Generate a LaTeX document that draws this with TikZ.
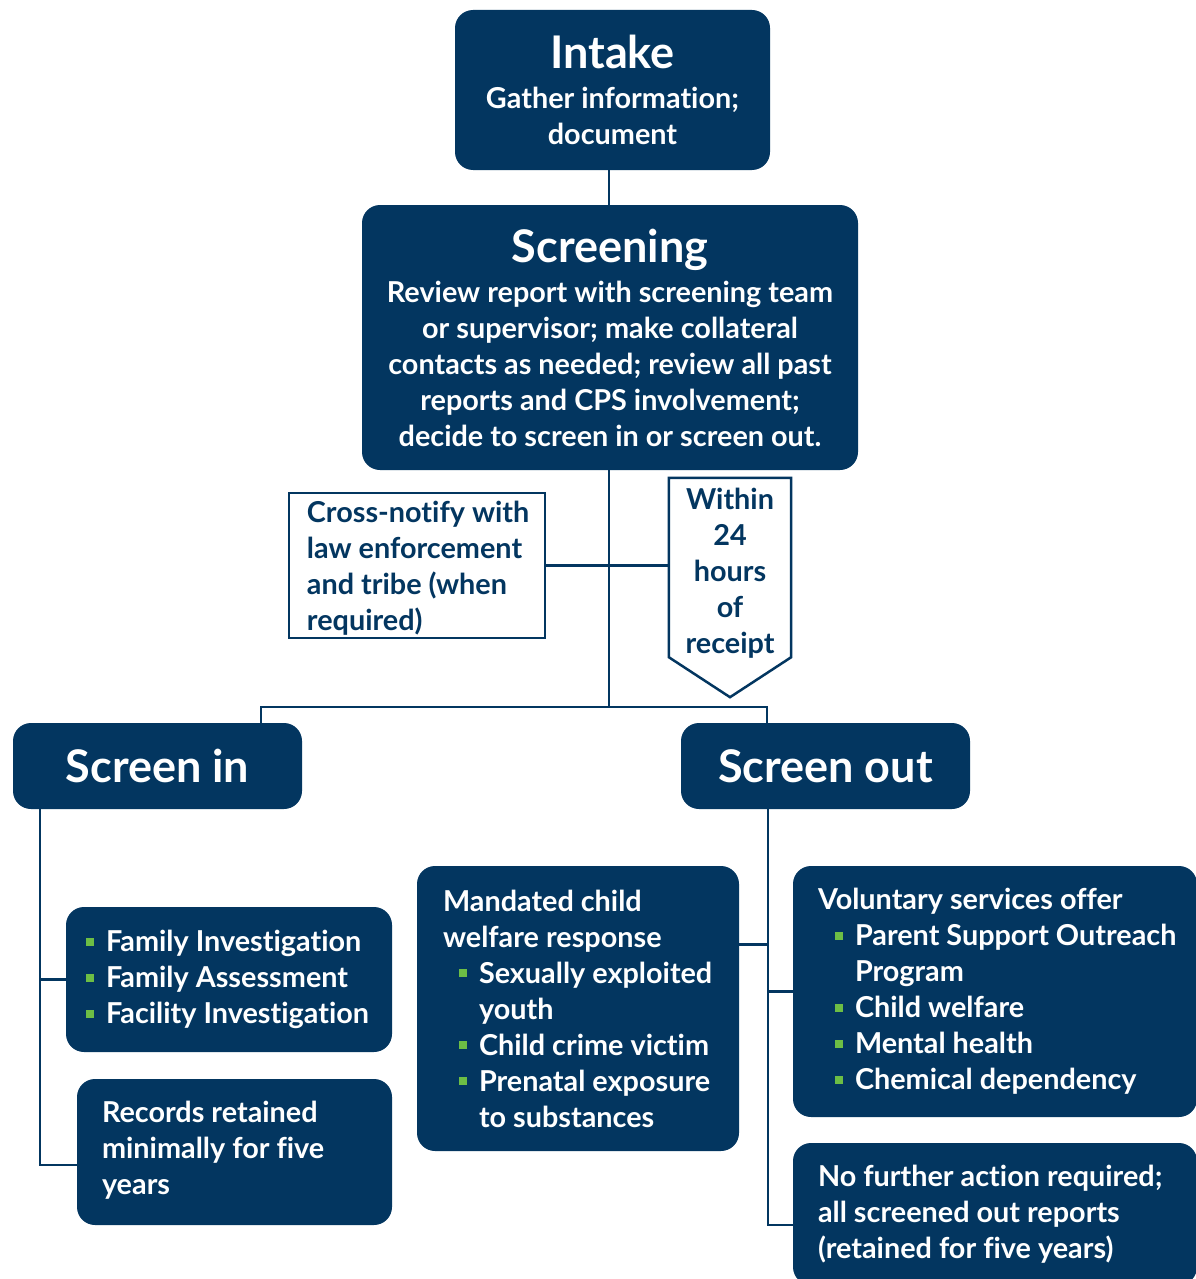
\documentclass[tikz,border=0pt]{standalone}
\usepackage{fontspec}
\setmainfont{Lato}[Ligatures=NoCommon]
\usetikzlibrary{calc}
\definecolor{navy}{RGB}{3,54,96}
\definecolor{grn}{RGB}{109,190,69}
\newcommand\gbul[1][16pt]{\hspace*{#1}\textcolor{grn}{\rule[6pt]{8pt}{8pt}}\hspace*{12pt}}
\newcommand\gcont[1][36pt]{\hspace*{#1}}
\newcommand\bodyfont{\fontsize{28.8pt}{36pt}\selectfont\bfseries}
\newcommand\titlefont{\fontsize{45pt}{50pt}\selectfont\bfseries}
\begin{document}
\begin{tikzpicture}[x=1pt,y=-1pt,
  navybox/.style={fill=navy, draw=none, rounded corners=18pt, text=white, inner sep=0pt, font=\bodyfont},
  outlinebox/.style={draw=navy, line width=2.5pt, fill=white, inner sep=0pt},
  bodytext/.style={text=white, inner sep=0pt, font=\bodyfont, align=left},
  navytext/.style={text=navy, inner sep=0pt, font=\bodyfont, align=left},
  link/.style={draw=navy, line width=2.5pt}]
\useasboundingbox (0,0) rectangle (1195,1279);

% top boxes
\node[navybox, minimum width=315pt, minimum height=160pt, align=center] (intake) at (612.5,90)
  {{\titlefont Intake}\\[4pt]Gather information;\\document};
\node[navybox, minimum width=496pt, minimum height=265pt, align=center] (screening) at (610,337.5)
  {{\titlefont Screening}\\[4pt]Review report with screening team\\or supervisor; make collateral\\contacts as needed; review all past\\reports and CPS involvement;\\decide to screen in or screen out.};

% cross-notify
\node[outlinebox, minimum width=256pt, minimum height=145pt] (cross) at (417,565.5) {};
\node[navytext, anchor=west] (crosstext) at ($(cross.west)+(19,3)$)
  {Cross-notify with\\law enforcement\\and tribe (when\\required)};

% within 24 hours
\node[inner sep=0pt, minimum width=122pt, minimum height=179pt, text=navy, font=\bodyfont, align=center] (within) at (730,573.5)
  {Within\\24\\hours\\of\\receipt};
\draw[navy, line width=2.5pt, line join=miter] ($(within.north west)+(0,-6)$) -- ($(within.north east)+(0,-6)$)
  -- ($(within.south east)+(0,-6)$) -- ($(within.south)+(0,34)$) -- ($(within.south west)+(0,-6)$) -- cycle;

% screen in / out
\node[navybox, minimum width=289pt, minimum height=86pt] (screenin) at (157.5,766) {\titlefont Screen in};
\node[navybox, minimum width=289pt, minimum height=86pt] (screenout) at (825.5,766) {\titlefont Screen out};

% screen in children
\node[navybox, minimum width=326pt, minimum height=145pt] (family) at (229,979.5) {};
\node[bodytext, anchor=west] (familytext) at ($(family.west)+(20,0)$)
  {\gbul[0pt]Family Investigation\\\gbul[0pt]Family Assessment\\\gbul[0pt]Facility Investigation};
\node[navybox, minimum width=315pt, minimum height=146pt] (records) at (234.5,1152) {};
\node[bodytext, anchor=west] (recordstext) at ($(records.west)+(25,-2)$)
  {Records retained\\minimally for five\\years};

% screen out children
\node[navybox, minimum width=322pt, minimum height=285pt] (mandated) at (578,1008.5) {};
\node[bodytext, anchor=west] (mandatedtext) at ($(mandated.west)+(26,0)$)
  {Mandated child\\welfare response\\\gbul Sexually exploited\\\gcont youth\\\gbul Child crime victim\\\gbul Prenatal exposure\\\gcont to substances};
\node[navybox, minimum width=404pt, minimum height=251pt] (voluntary) at (995,991.5) {};
\node[bodytext, anchor=west] (voluntarytext) at ($(voluntary.west)+(25,0)$)
  {Voluntary services offer\\\gbul[17pt]Parent Support Outreach\\\gcont[37pt]Program\\\gbul[17pt]Child welfare\\\gbul[17pt]Mental health\\\gbul[17pt]Chemical dependency};
\node[navybox, minimum width=404pt, minimum height=142pt] (nofurther) at (995,1214) {};
\node[bodytext, anchor=west] (nofurthertext) at ($(nofurther.west)+(25,0)$)
  {No further action required;\\all screened out reports\\(retained for five years)};

% connectors
\coordinate (split) at (609,707);
\coordinate (jl) at (261,707);
\coordinate (jr) at (767,707);
\draw[link] (screening.north -| split) -- (intake.south -| split);
\draw[link] (screening.south -| split) -- (split);
\draw[link] (cross.east) -- (within.west |- cross.east);
\draw[link] (jl |- screenin.north) -- (jl) -- (jr) -- (jr |- screenout.north);

\coordinate (lv) at ($(screenin.south west)+(27,0)$);
\draw[link] (lv) -- (lv |- family.west) -- (family.west);
\draw[link] (lv |- family.west) -- ($(lv |- records.west)+(0,13)$) -- ($(records.west)+(0,13)$);

\coordinate (rv) at ($(screenout.south west)+(87,0)$);
\draw[link] (rv) -- ($(rv |- nofurther.west)+(0,11)$) -- ($(nofurther.west)+(0,11)$);
\draw[link] ($(mandated.east)+(0,-64)$) -- ($(rv |- mandated.east)+(0,-64)$);
\draw[link] (rv |- voluntary.west) -- (voluntary.west);
\end{tikzpicture}
\end{document}
